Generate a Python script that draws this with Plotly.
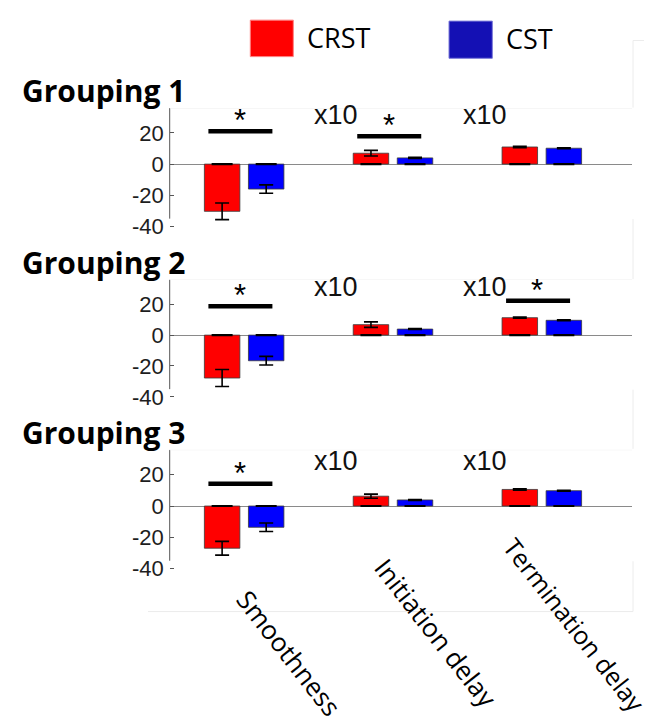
import plotly.graph_objects as go

# ---------------- data ----------------
categories = ["Smoothness", "Initiation delay", "Termination delay"]
series_names = ["CRST", "CST"]
groupings = ["Grouping 1", "Grouping 2", "Grouping 3"]

crst_mean = [[-30.3, 7.0, 11.0], [-27.8, 6.8, 11.3], [-27.0, 6.3, 10.6]]
crst_err = [[5.3, 1.8, 0.4], [5.5, 1.8, 0.4], [4.4, 1.3, 0.4]]
cst_mean = [[-16.0, 4.0, 10.2], [-16.6, 3.9, 9.6], [-13.6, 3.9, 9.8]]
cst_err = [[2.7, 0.3, 0.3], [2.8, 0.3, 0.3], [2.7, 0.3, 0.3]]

sig_panel = [0, 0, 1, 1, 2]
sig_category = [0, 1, 0, 2, 0]
sig_height = [21.1, 17.9, 18.7, 22.2, 14.2]

scale_text = ["x10", "x10"]
scale_category = [1, 2]

ytick_vals = [-40, -20, 0, 20]
ytick_text = ["-40", "-20", "0", "20"]

# ---------------- styling ----------------
W, H = 652, 724
RED = "#ff0000"
BLUE = "#0000ff"
BAR_W = 0.2384
OFFSETS = [-0.267, 0.029]
YRANGE = [-42, 36]


def fx(px):
    return px / W


def fy(py):
    return 1 - py / H


# per panel: (pixel of y=0, pixels per unit)
panel_geom = [(158.3, 1.58), (331.7, 1.565), (505.0, 1.585)]
x_left_px, x_right_px = 161.7, 624.0
scale_y = [31.5, 31.2, 28.5]
group_label_y = [84, 258, 430]

fig = go.Figure()
shapes = []
annotations = []

for p in range(3):
    sfx = "" if p == 0 else str(p + 1)
    xa, ya = "x" + sfx, "y" + sfx
    zero_px, ppu = panel_geom[p]
    top_px = zero_px - ppu * YRANGE[1]
    bot_px = zero_px - ppu * YRANGE[0]
    fig.update_layout(**{
        "xaxis" + sfx: dict(domain=[fx(x_left_px), fx(x_right_px)], range=[-0.5, 2.606],
                            anchor=ya, showgrid=False, zeroline=False, showline=False,
                            showticklabels=False, ticks="", fixedrange=True),
        "yaxis" + sfx: dict(domain=[fy(bot_px), fy(top_px)], range=YRANGE, anchor=xa,
                            showgrid=False, zeroline=True, zerolinecolor="#8a8a8a",
                            zerolinewidth=1, showline=False, tickvals=ytick_vals,
                            ticktext=ytick_text, ticks="inside", ticklen=4,
                            tickcolor="#555555", tickwidth=1, ticklabelstandoff=5,
                            tickfont=dict(family="Liberation Sans, Arial, sans-serif",
                                          size=22, color="#1e1e1e"),
                            fixedrange=True),
    })

    for s, (means, errs, col) in enumerate([(crst_mean, crst_err, RED), (cst_mean, cst_err, BLUE)]):
        fig.add_trace(go.Bar(
            x=[0, 1, 2], y=means[p], xaxis=xa, yaxis=ya, width=BAR_W, offset=OFFSETS[s],
            marker=dict(color=col, line=dict(color="#3a3a3a", width=0.8)),
            error_y=dict(type="data", array=errs[p], color="black", thickness=1.6, width=7),
            name=series_names[s], showlegend=False, hoverinfo="skip"))
        # cap at the bar base
        fig.add_trace(go.Scatter(
            x=[i + OFFSETS[s] + BAR_W / 2 for i in range(3)], y=[0, 0, 0],
            xaxis=xa, yaxis=ya, mode="markers",
            marker=dict(symbol="line-ew", size=15, line=dict(color="black", width=2.2)),
            showlegend=False, hoverinfo="skip"))

    # y-axis line (truncated at -35)
    shapes.append(dict(type="line", xref=xa + " domain", yref=ya, x0=0, x1=0, y0=-35,
                       y1=YRANGE[1], line=dict(color="#555555", width=1)))
    # faint top border
    shapes.append(dict(type="line", xref=xa + " domain", yref=ya, x0=0, x1=1, y0=YRANGE[1],
                       y1=YRANGE[1], line=dict(color="#eeeeee", width=1)))

    # scale labels
    for t, c in zip(scale_text, scale_category):
        annotations.append(dict(xref=xa, yref=ya, x=c - 0.385, y=scale_y[p], text=t,
                                showarrow=False, xanchor="center", yanchor="middle",
                                font=dict(family="Liberation Sans, Arial, sans-serif",
                                          size=27, color="#111111")))

    # grouping title
    annotations.append(dict(xref="paper", yref="paper", x=fx(12), y=fy(group_label_y[p]),
                            text="<b>" + groupings[p] + "</b>", showarrow=False,
                            xanchor="left", yanchor="middle",
                            font=dict(family="Open Sans, sans-serif", size=30, color="black")))

# significance bars
for pp, c, h in zip(sig_panel, sig_category, sig_height):
    sfx = "" if pp == 0 else str(pp + 1)
    xa, ya = "x" + sfx, "y" + sfx
    shapes.append(dict(type="line", xref=xa, yref=ya, x0=c - 0.24, x1=c + 0.19, y0=h, y1=h,
                       line=dict(color="black", width=4.5)))
    annotations.append(dict(xref=xa, yref=ya, x=c - 0.03, y=h, text="*", showarrow=False,
                            xanchor="center", yanchor="bottom", yshift=-9,
                            font=dict(family="Liberation Sans, Arial, sans-serif",
                                      size=31, color="black")))

# category labels (rotated)
cat_centers = [(281, 654), (428, 634), (566, 625)]
cat_sizes = [26, 26, 25]
for name, (cx, cy), fs in zip(categories, cat_centers, cat_sizes):
    annotations.append(dict(xref="paper", yref="paper", x=fx(cx), y=fy(cy), text=name,
                            showarrow=False, textangle=52, xanchor="center", yanchor="middle",
                            borderpad=0,
                            font=dict(family="Open Sans, sans-serif", size=fs, color="black")))

# legend (manual)
legend_boxes = [(242.3, 12.3, 285.3, 49.3, "#ff0000", "#ff8080"),
                (441.0, 13.3, 484.3, 51.0, "#1410b4", "#7a78d8")]
legend_text_x = [297, 496]
legend_text_y = [30, 31]
for (x0, y0, x1, y1, fc, lc), tx, ty, nm in zip(legend_boxes, legend_text_x, legend_text_y,
                                                series_names):
    shapes.append(dict(type="rect", xref="paper", yref="paper", x0=fx(x0), x1=fx(x1),
                       y0=fy(y1), y1=fy(y0), fillcolor=fc, line=dict(color=lc, width=1)))
    annotations.append(dict(xref="paper", yref="paper", x=fx(tx), y=fy(ty), text=nm,
                            showarrow=False, xanchor="left", yanchor="middle",
                            font=dict(family="Open Sans, sans-serif", size=27, color="black")))

# faint frame lines of the composite
faint = "#ececec"
for (y0, y1) in [(33, 101), (214, 275), (387, 447), (561, 612)]:
    shapes.append(dict(type="line", xref="paper", yref="paper", x0=fx(625), x1=fx(625),
                       y0=fy(y0), y1=fy(y1), line=dict(color=faint, width=1)))
shapes.append(dict(type="line", xref="paper", yref="paper", x0=fx(625), x1=fx(652),
                   y0=fy(33), y1=fy(33), line=dict(color=faint, width=1)))
shapes.append(dict(type="line", xref="paper", yref="paper", x0=fx(140), x1=fx(625),
                   y0=fy(612), y1=fy(612), line=dict(color=faint, width=1)))

fig.update_layout(width=W, height=H, margin=dict(l=0, r=0, t=0, b=0),
                  paper_bgcolor="white", plot_bgcolor="rgba(0,0,0,0)",
                  barmode="overlay", showlegend=False, shapes=shapes,
                  annotations=annotations)

fig.write_html("out.html")
